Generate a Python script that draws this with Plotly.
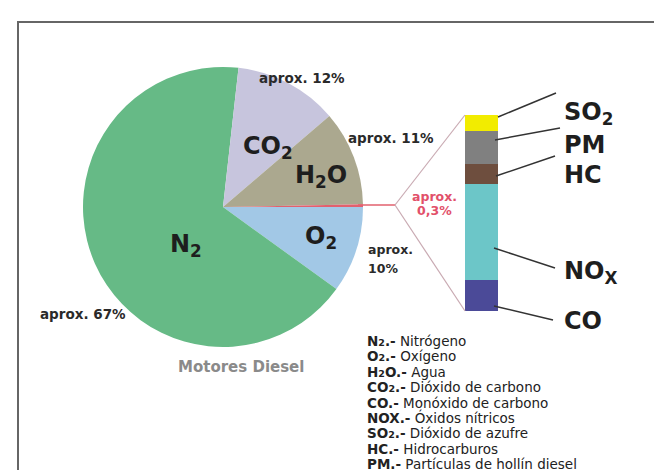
import plotly.graph_objects as go

# composicion de gases de escape (pastel)
gases = ["O2", "N2", "CO2", "H2O", "nocivos"]
gases_pct = [10, 67, 12, 11, 0.3]
gases_col = ["#a2c8e6", "#66ba86", "#c7c5dd", "#aba88f", "#e2606e"]

# reparto del 0,3% de componentes nocivos (barra, de abajo arriba)
nocivos = ["CO", "NOx", "HC", "PM", "SO2"]
nocivos_pct = [16, 49, 10, 17, 8]
nocivos_col = ["#4b4a98", "#6cc6c8", "#6e4e3e", "#808080", "#f2ec00"]

sub2 = '<span style="font-size:9.5px">2</span>'
leyenda = [
    (f"N{sub2}.-", "Nitrógeno"),
    (f"O{sub2}.-", "Oxígeno"),
    (f"H{sub2}O.-", "Agua"),
    (f"CO{sub2}.-", "Dióxido de carbono"),
    ("CO.-", "Monóxido de carbono"),
    ("NOX.-", "Óxidos nítricos"),
    (f"SO{sub2}.-", "Dióxido de azufre"),
    ("HC.-", "Hidrocarburos"),
    ("PM.-", "Partículas de hollín diesel"),
]

W, H = 662, 470


def px(x):
    return x / W


def py(y):
    return 1 - y / H


fig = go.Figure()

fig.add_trace(go.Pie(
    labels=gases,
    values=gases_pct,
    sort=False,
    direction="clockwise",
    rotation=90,
    marker=dict(colors=gases_col, line=dict(width=0)),
    textinfo="none",
    hoverinfo="label+percent",
    domain=dict(x=[px(75), px(355)], y=[py(339), py(59)]),
    showlegend=False,
))

for nombre, valor, color in zip(nocivos, nocivos_pct, nocivos_col):
    fig.add_trace(go.Bar(
        x=[0], y=[valor], name=nombre, width=1,
        marker=dict(color=color, line=dict(width=0)),
        showlegend=False,
    ))

fig.update_layout(
    width=W, height=H,
    margin=dict(l=0, r=0, t=0, b=0),
    paper_bgcolor="white",
    plot_bgcolor="white",
    barmode="stack",
    bargap=0,
    xaxis=dict(domain=[px(457), px(490)], range=[-0.5, 0.5], visible=False),
    yaxis=dict(domain=[py(303), py(107)], range=[0, 100], visible=False),
)

lineas = []
# marco
lineas.append(dict(type="rect", xref="paper", yref="paper",
                   x0=px(10), y0=-0.2, x1=px(654), y1=py(14),
                   line=dict(color="#666666", width=2)))
# linea roja y abanico hacia la barra
lineas.append(dict(type="line", xref="paper", yref="paper",
                   x0=px(350), y0=py(197), x1=px(387), y1=py(197),
                   line=dict(color="#e2606e", width=1.5)))
for yb in (107, 303):
    lineas.append(dict(type="line", xref="paper", yref="paper",
                       x0=px(387), y0=py(197), x1=px(457), y1=py(yb),
                       line=dict(color="#c9aab2", width=1.2)))
# lineas de las etiquetas de la barra
for (x0, y0, x1, y1) in [(490, 109, 548, 85), (487, 132, 552, 120),
                         (488, 168, 547, 148), (486, 240, 547, 260),
                         (486, 298, 545, 312)]:
    lineas.append(dict(type="line", xref="paper", yref="paper",
                       x0=px(x0), y0=py(y0), x1=px(x1), y1=py(y1),
                       line=dict(color="#333333", width=1.5)))
fig.update_layout(shapes=lineas)

notas = []
grande = dict(family="DejaVu Sans", size=24, color="#1e1e1e")
for texto, x, y in [("CO<sub>2</sub>", 260, 122), ("H<sub>2</sub>O", 313, 168),
                    ("O<sub>2</sub>", 313, 230), ("N<sub>2</sub>", 160, 238)]:
    notas.append(dict(text=f"<b>{texto}</b>", x=px(x), y=py(y), xref="paper", yref="paper",
                      showarrow=False, font=grande))
for texto, y in [("SO<sub>2</sub>", 88), ("PM", 121), ("HC", 151),
                 ("NO<sub>X</sub>", 264), ("CO", 313)]:
    notas.append(dict(text=f"<b>{texto}</b>", x=px(554), y=py(y), xref="paper", yref="paper",
                      xanchor="left", showarrow=False, font=grande))

chico = dict(family="DejaVu Sans", size=13.5, color="#2a2a2a")
for texto, x, y, anc in [("aprox. 12%", 294, 60, "center"), ("aprox. 11%", 383, 120, "center"),
                         ("aprox. 67%", 75, 316, "center")]:
    notas.append(dict(text=f"<b>{texto}</b>", x=px(x), y=py(y), xref="paper", yref="paper",
                      xanchor=anc, showarrow=False, font=chico))
for texto, y in [("aprox.", 242), ("10%", 260)]:
    notas.append(dict(text=f"<b>{texto}</b>", x=px(358), y=py(y), xref="paper", yref="paper",
                      xanchor="left", showarrow=False,
                      font=dict(family="DejaVu Sans", size=12.5, color="#2a2a2a")))
for texto, y in [("aprox.", 188), ("0,3%", 202)]:
    notas.append(dict(text=f"<b>{texto}</b>", x=px(426), y=py(y), xref="paper", yref="paper",
                      showarrow=False, font=dict(family="DejaVu Sans", size=12.5, color="#e2506a")))

notas.append(dict(text="<b>Motores Diesel</b>", x=px(233), y=py(370), xref="paper", yref="paper",
                  showarrow=False, font=dict(family="DejaVu Sans", size=15, color="#8a8a8a")))

for i, (sigla, nombre) in enumerate(leyenda):
    notas.append(dict(text=f"<b>{sigla}</b> {nombre}", x=px(357), y=py(343 + 15.4 * i),
                      xref="paper", yref="paper", xanchor="left", showarrow=False,
                      font=dict(family="DejaVu Sans", size=13.5, color="#222222")))

fig.update_layout(annotations=notas)

fig.write_html("out.html")
